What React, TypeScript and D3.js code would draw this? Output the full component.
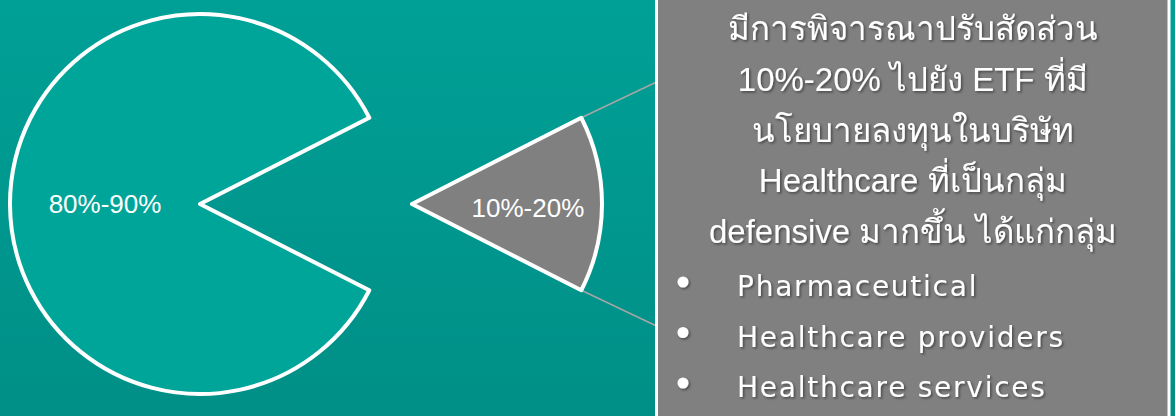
import React from "react";
import * as d3 from "d3";

// slices of the portfolio
const sliceLabels = ["10%-20%", "80%-90%"];
const sliceValues = [15, 85];
const sliceFills = ["#808080", "#00a59a"];

// text in the grey panel
const noteLines = [
  "มีการพิจารณาปรับสัดส่วน",
  "10%-20% ไปยัง ETF ที่มี",
  "นโยบายลงทุนในบริษัท",
  "Healthcare ที่เป็นกลุ่ม",
  "defensive มากขึ้น ได้แก่กลุ่ม",
];
const bulletItems = ["Pharmaceutical", "Healthcare providers", "Healthcare services"];

const W = 1175;
const H = 416;

export default function App() {
  const cx = 200;
  const cy = 204;
  const r = 190;
  const explode = 212;

  const share = sliceValues[0] / d3.sum(sliceValues);
  const pie = d3
    .pie<number>()
    .sort(null)
    .value((d) => d)
    .startAngle(Math.PI / 2 - share * Math.PI)
    .endAngle(Math.PI / 2 - share * Math.PI + 2 * Math.PI);
  const arcs = pie(sliceValues);

  const arc = d3.arc<d3.PieArcDatum<number>>().innerRadius(0).outerRadius(r);
  const labelRadius = [r * 0.61, r * 0.5];

  // offsets for exploded slice
  const offset = (i: number) => {
    if (i !== 0) return [0, 0];
    const mid = (arcs[0].startAngle + arcs[0].endAngle) / 2;
    return [Math.sin(mid) * explode, -Math.cos(mid) * explode];
  };

  const [ox, oy] = offset(0);
  const a0 = arcs[0];
  const p1 = [cx + ox + Math.sin(a0.startAngle) * r, cy + oy - Math.cos(a0.startAngle) * r];
  const p2 = [cx + ox + Math.sin(a0.endAngle) * r, cy + oy - Math.cos(a0.endAngle) * r];

  const boxX0 = 656.5;
  const boxX1 = 1169;
  const textCx = (boxX0 + boxX1) / 2;

  const lineY = d3.scaleLinear().domain([0, 1]).range([40, 90.8]);
  const bulletY = d3.scaleLinear().domain([0, 1]).range([296, 346.5]);

  return (
    <svg
      width={W}
      height={H}
      style={{ position: "absolute", left: 0, top: 0, display: "block" }}
    >
      <defs>
        <linearGradient id="bg" x1="0" y1="0" x2="0" y2="1">
          <stop offset="0%" stopColor="#00a096" />
          <stop offset="100%" stopColor="#008f87" />
        </linearGradient>
        <filter id="shadow" x="-10%" y="-30%" width="120%" height="160%">
          <feDropShadow dx="1.5" dy="1.5" stdDeviation="1" floodColor="#000" floodOpacity="0.45" />
        </filter>
      </defs>
      <rect width={W} height={H} fill="url(#bg)" />

      {/* leader lines */}
      <line x1={p1[0]} y1={p1[1]} x2={boxX0} y2={82} stroke="#a6a6a6" strokeWidth={1.5} />
      <line x1={p2[0]} y1={p2[1]} x2={boxX0} y2={326} stroke="#a6a6a6" strokeWidth={1.5} />

      {arcs.map((d, i) => {
        const [dx, dy] = offset(i);
        const la = d3.arc<d3.PieArcDatum<number>>().innerRadius(labelRadius[i]).outerRadius(labelRadius[i]);
        const [lx, ly] = la.centroid(d);
        return (
          <g key={i} transform={`translate(${cx + dx},${cy + dy})`}>
            <path d={arc(d) || ""} fill={sliceFills[i]} stroke="#fff" strokeWidth={4} strokeLinejoin="round" />
            <text
              x={lx}
              y={ly + (i === 0 ? 4 : 0)}
              textAnchor="middle"
              dominantBaseline="central"
              fill="#fff"
              fontFamily="'Liberation Sans', Arial, sans-serif"
              fontSize={26}
            >
              {sliceLabels[i]}
            </text>
          </g>
        );
      })}

      {/* note panel */}
      <rect x={boxX0} y={-5} width={boxX1 - boxX0} height={H + 10} fill="#808080" stroke="#fff" strokeWidth={3} />
      <g filter="url(#shadow)" fill="#fff">
        {noteLines.map((t, i) => (
          <text
            key={i}
            x={textCx}
            y={lineY(i)}
            textAnchor="middle"
            fontFamily="'Liberation Sans', 'Noto Sans', sans-serif"
            fontSize={33}
          >
            {t}
          </text>
        ))}
        {bulletItems.map((t, i) => (
          <g key={t}>
            <circle cx={683} cy={bulletY(i) - 14} r={5.5} />
            <text
              x={737}
              y={bulletY(i)}
              fontFamily="'DejaVu Sans', sans-serif"
              fontSize={28}
              letterSpacing={1.75}
            >
              {t}
            </text>
          </g>
        ))}
      </g>
    </svg>
  );
}
